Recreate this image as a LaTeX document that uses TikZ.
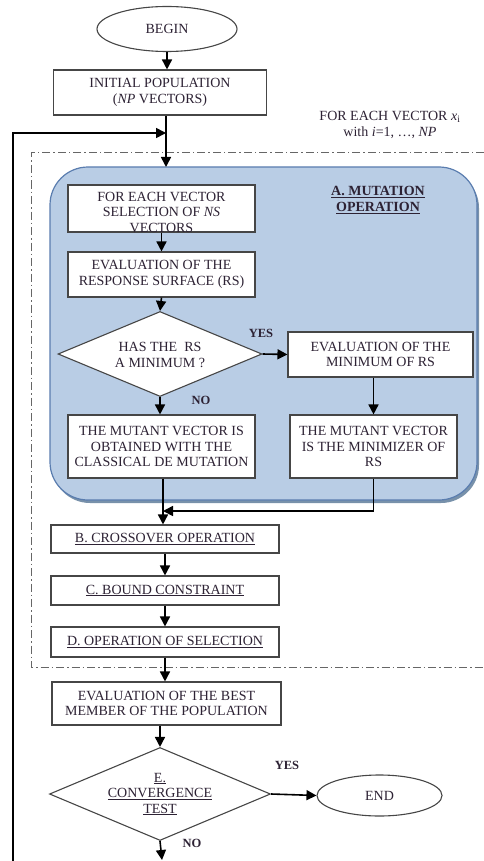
\documentclass[tikz,border=0pt]{standalone}
\usepackage{fontspec}
\setmainfont{Liberation Serif}
\usetikzlibrary{shapes.geometric,arrows.meta}
\definecolor{txt}{RGB}{45,34,52}
\definecolor{bluefill}{RGB}{185,205,229}
\definecolor{blueedge}{RGB}{90,125,175}
\definecolor{blueshadow}{RGB}{120,145,170}
\definecolor{boxedge}{RGB}{70,70,70}
\tikzset{
  every node/.style={text=txt, font=\fontsize{14}{15.5}\selectfont},
  box/.style={draw=boxedge, line width=1.1pt, fill=white, align=center, inner sep=0pt},
  plain/.style={align=center, inner sep=0pt},
  term/.style={ellipse, draw=boxedge, line width=1.1pt, fill=white, inner sep=0pt},
  decision/.style={diamond, draw=boxedge, line width=1.1pt, fill=white, inner sep=0pt},
  arr/.style={line width=1.6pt, -{Triangle[length=10pt,width=10pt]}},
  link/.style={line width=1.6pt},
  lbl/.style={font=\bfseries\fontsize{12.5}{14}\selectfont, inner sep=0pt},
  dashdot/.style={draw=gray!80!black, line width=1pt, dash pattern=on 8pt off 3pt on 1.5pt off 3pt}
}
\begin{document}
\begin{tikzpicture}[x=1pt,y=-1pt]
\useasboundingbox (0,0) rectangle (483,861);
% dash-dot loop frame
\draw[dashdot] (484,153) -- (31,153) -- (31,667) -- (484,667);
% mutation region
\fill[blueshadow] (52,170) [rounded corners=38pt] rectangle (479,503);
\draw[fill=bluefill, draw=blueedge, line width=1.2pt, rounded corners=38pt] (50,167) rectangle (477,500);
\node[plain] (mutlbl) at (378,200) {\underline{\textbf{A. MUTATION}}\\\underline{\textbf{OPERATION}}};

% nodes
\node[term, minimum width=140pt, minimum height=45pt] (begin) at (167,29) {BEGIN};
\node[box, minimum width=213pt, minimum height=45pt] (init) at (160,92.5) {INITIAL POPULATION\\(\textit{NP} VECTORS)};
\node[plain] (foreach) at (390,125) {FOR EACH VECTOR \textit{x}\textsubscript{i}\\with \textit{i}=1, \ldots, \textit{NP}};

\node[box, minimum width=187pt, minimum height=47pt] (s1) at (161.5,208.5) {};
\node[plain] (s1t) at (161.5,212) {FOR EACH VECTOR\\SELECTION OF \textit{NS}\\VECTORS};
\node[box, minimum width=187pt, minimum height=45pt] (s2) at (161.5,274.5) {EVALUATION OF THE\\RESPONSE SURFACE (RS)};
\node[decision, minimum width=204pt, minimum height=85pt] (d1) at (160,354) {};
\node[plain] (d1t) at (160,355) {HAS THE~~RS\\A MINIMUM ?};
\node[box, minimum width=185pt, minimum height=45pt] (s3) at (380.5,354.5) {EVALUATION OF THE\\MINIMUM OF RS};
\node[box, minimum width=187pt, minimum height=63pt] (s4) at (161.5,446.5) {THE MUTANT VECTOR IS\\OBTAINED WITH THE\\CLASSICAL DE MUTATION};
\node[box, minimum width=167pt, minimum height=63pt] (s5) at (373.5,446.5) {THE MUTANT VECTOR\\IS THE MINIMIZER OF\\RS};

\node[box, minimum width=228pt, minimum height=28pt] (B) at (165,539) {\underline{B. CROSSOVER OPERATION}};
\node[box, minimum width=228pt, minimum height=29pt] (C) at (165,590.5) {\underline{C. BOUND CONSTRAINT}};
\node[box, minimum width=228pt, minimum height=30pt] (D) at (165,642) {\underline{D. OPERATION OF SELECTION}};
\node[box, minimum width=229pt, minimum height=43pt] (E) at (166.5,703.5) {EVALUATION OF THE BEST\\MEMBER OF THE POPULATION};
\node[decision, minimum width=221pt, minimum height=93pt] (d2) at (160,794) {};
\node[plain] (d2t) at (160,794) {\underline{E.}\\\underline{CONVERGENCE}\\\underline{TEST}};
\node[term, minimum width=125pt, minimum height=41pt] (end) at (379.5,795.5) {END};

% labels
\node[lbl] (yes1) at (261,333) {YES};
\node[lbl] (no1) at (201,400) {NO};
\node[lbl] (yes2) at (287,765) {YES};
\node[lbl] (no2) at (192,843) {NO};

% coordinates
\coordinate (join) at (166,133);
\coordinate (fbot) at (13,861);
\coordinate (bot) at (162,860);
\coordinate (merge) at (163,511);

% connectors
\draw[arr] (begin.south) -- (begin.south |- init.north);
\draw[link] (init.south -| join) -- (join);
\draw[arr] (join) -- (join |- 0,167);
\draw[arr] (fbot) |- (join);
\draw[arr] (s1.south) -- (s2.north);
\draw[arr] (s2.south) -- (d1.north);
\draw[arr] (d1.east) -- (s3.west);
\draw[arr] (d1.south) -- (d1.south |- s4.north);
\draw[arr] (s3.south -| s5.north) -- (s5.north);
\draw[arr] (merge |- s4.south) -- (merge |- B.north);
\draw[arr] (s5.south) |- (merge);
\draw[arr] (B.south) -- (C.north);
\draw[arr] (C.south) -- (D.north);
\draw[arr] (D.south) -- (D.south |- E.north);
\draw[arr] (E.south -| d2.north) -- (d2.north);
\draw[arr] (d2.east) -- (end.west);
\draw[arr] (d2.south) -- (bot);
\end{tikzpicture}
\end{document}
